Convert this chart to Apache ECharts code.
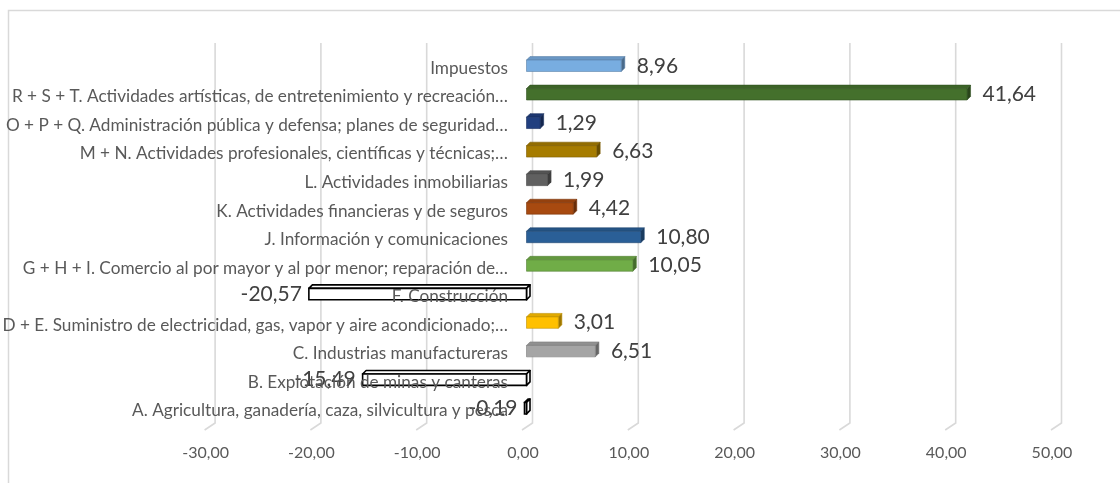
<!DOCTYPE html>
<html>
<head>
<meta charset="utf-8">
<script src="https://cdn.jsdelivr.net/npm/echarts@6/dist/echarts.min.js"></script>
<style>
  html, body { margin: 0; padding: 0; background: #ffffff; }
  #chart { width: 1120px; height: 483px; }
</style>
</head>
<body>
<div id="chart"></div>
<script>
// Sector categories, listed from the bottom of the chart to the top
const categories = [
  'A. Agricultura, ganadería, caza, silvicultura y pesca',
  'B. Explotación de minas y canteras',
  'C. Industrias manufactureras',
  'D + E. Suministro de electricidad, gas, vapor y aire acondicionado;…',
  'F. Construcción',
  'G + H + I. Comercio al por mayor y al por menor; reparación de…',
  'J. Información y comunicaciones',
  'K. Actividades financieras y de seguros',
  'L. Actividades inmobiliarias',
  'M + N. Actividades profesionales, científicas y técnicas;…',
  'O + P + Q. Administración pública y defensa; planes de seguridad…',
  'R + S + T. Actividades artísticas, de entretenimiento y recreación…',
  'Impuestos'
];

// Variation per sector
const values = [-0.19, -15.49, 6.51, 3.01, -20.57, 10.05, 10.80, 4.42, 1.99, 6.63, 1.29, 41.64, 8.96];

// Fill per sector (null = hollow bar for negative variation)
const barColors = [
  null, null, '#a5a5a5', '#ffc000', null, '#70ad47', '#2a5f97',
  '#a84a10', '#606060', '#a67c00', '#213f7f', '#44702c', '#78ade0'
];

// Value axis ticks
const xTicks = [-30, -20, -10, 0, 10, 20, 30, 40, 50];

const fmt = v => v.toFixed(2).replace('.', ',');

function shade(hex, f) {
  const n = parseInt(hex.slice(1), 16);
  let r = n >> 16, g = (n >> 8) & 255, b = n & 255;
  if (f < 0) { r *= 1 + f; g *= 1 + f; b *= 1 + f; }
  else { r += (255 - r) * f; g += (255 - g) * f; b += (255 - b) * f; }
  return 'rgb(' + Math.round(r) + ',' + Math.round(g) + ',' + Math.round(b) + ')';
}

const FONT = 'Lato, "Liberation Sans", sans-serif';
const DEPTH = 3.5;     // 3D extrusion of the bars
const SHIFT = 3.5;     // bars sit half-way into the floor depth
const WALL = 9.5;      // back-wall offset of the gridlines

const chart = echarts.init(document.getElementById('chart'));

chart.setOption({
  animation: false,
  backgroundColor: '#ffffff',
  graphic: [{
    type: 'rect',
    left: 6, top: 8,
    shape: { width: 1200, height: 600 },
    style: { fill: 'none', stroke: '#d9d9d9', lineWidth: 1.5 },
    silent: true, z: -10
  }],
  grid: {
    left: 205.6, right: 68, top: 54, bottom: 58,
    containLabel: false,
    outerBoundsMode: 'none'
  },
  xAxis: {
    type: 'value',
    min: xTicks[0],
    max: xTicks[xTicks.length - 1],
    interval: xTicks[1] - xTicks[0],
    axisLine: { show: false },
    axisTick: { show: false },
    splitLine: { show: false },
    axisLabel: {
      margin: 20,
      color: '#595959',
      fontFamily: FONT,
      fontSize: 16,
      formatter: v => fmt(v)
    }
  },
  yAxis: {
    type: 'category',
    data: categories,
    z: 10,
    axisLine: { show: false, onZero: false },
    axisTick: { show: false },
    splitLine: { show: false },
    axisLabel: {
      margin: 15,
      color: '#595959',
      fontFamily: FONT,
      fontSize: 17.2
    }
  },
  series: [
    {
      // back-wall gridlines with the floor edge
      type: 'custom',
      z: 1,
      silent: true,
      clip: false,
      data: xTicks.map(t => [t, 0]),
      encode: { x: 0, y: 1 },
      renderItem: (params, api) => {
        const cs = params.coordSys;
        const x = api.coord([api.value(0), 0])[0];
        const bottom = cs.y + cs.height;
        return {
          type: 'polyline',
          shape: { points: [[x + WALL, cs.y - 11], [x + WALL, bottom - 2], [x - 1, bottom + 5]] },
          style: { fill: null, stroke: '#d9d9d9', lineWidth: 1.6 }
        };
      }
    },
    {
      type: 'custom',
      z: 3,
      clip: false,
      data: values.map((v, i) => [v, i]),
      encode: { x: 0, y: 1 },
      renderItem: (params, api) => {
        const v = api.value(0);
        const i = params.dataIndex;
        const p0 = api.coord([0, i]);
        const p1 = api.coord([v, i]);
        const band = api.size([0, 1])[1];
        const h = band * 0.4;
        const yc = p0[1] - 2.5;
        const xa = Math.min(p0[0], p1[0]) + SHIFT;
        const xb = Math.max(p0[0], p1[0]) + SHIFT;
        const yT = yc - h / 2, yB = yc + h / 2;
        const base = barColors[i];
        const hollow = !base;
        const front = hollow ? '#ffffff' : base;
        const top = hollow ? '#ffffff' : shade(base, -0.12);
        const side = hollow ? '#ffffff' : shade(base, -0.38);
        const stroke = hollow ? '#000000' : shade(base, -0.25);
        const lw = hollow ? 1.6 : 0.6;
        const d = DEPTH;
        const labelStyle = {
          text: fmt(v),
          y: yc,
          fill: '#404040',
          fontFamily: FONT,
          fontSize: 21,
          verticalAlign: 'middle'
        };
        if (v >= 0) { labelStyle.x = xb + d + 12; labelStyle.align = 'left'; }
        else { labelStyle.x = xa - 7; labelStyle.align = 'right'; }
        return {
          type: 'group',
          children: [
            {
              type: 'polygon',
              shape: { points: [[xa, yT], [xb, yT], [xb + d, yT - d], [xa + d, yT - d]] },
              style: { fill: top, stroke: stroke, lineWidth: lw, lineJoin: 'round' }
            },
            {
              type: 'polygon',
              shape: { points: [[xb, yT], [xb + d, yT - d], [xb + d, yB - d], [xb, yB]] },
              style: { fill: side, stroke: stroke, lineWidth: lw, lineJoin: 'round' }
            },
            {
              type: 'rect',
              shape: { x: xa, y: yT, width: xb - xa, height: h },
              style: { fill: front, stroke: stroke, lineWidth: lw }
            },
            { type: 'text', z2: 5, style: labelStyle }
          ]
        };
      }
    }
  ]
});

// Category names hang off the zero line of the value axis
const zeroPx = chart.convertToPixel({ xAxisIndex: 0 }, 0);
const leftPx = chart.convertToPixel({ xAxisIndex: 0 }, xTicks[0]);
chart.setOption({ yAxis: { offset: -(zeroPx - leftPx) } });
</script>
</body>
</html>
